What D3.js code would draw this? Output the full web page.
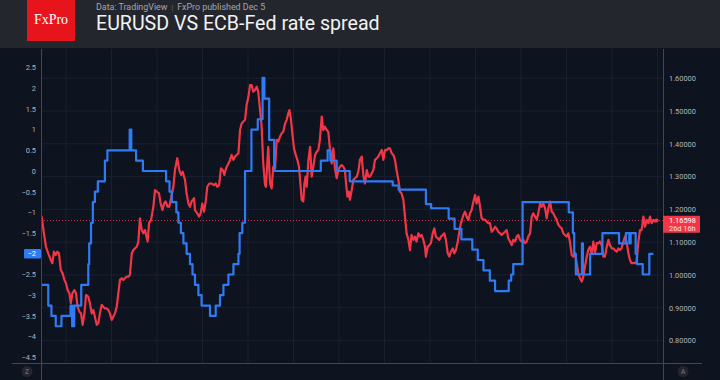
<!DOCTYPE html>
<html><head><meta charset="utf-8">
<script src="https://cdn.jsdelivr.net/npm/d3@7"></script>
<style>
html,body{margin:0;padding:0;background:#0e1320;}
svg{display:block;}
</style></head><body>
<svg id="c" width="720" height="380"></svg>
<script>
// ---------- data ----------
const yearTicks = [2000,2002,2004,2006,2008,2010,2012,2014,2016,2018,2020,2022,2024,2026];
const leftTicks = [2.5,2,1.5,1,0.5,0,-0.5,-1,-1.5,-2,-2.5,-3,-3.5,-4,-4.5];
const rightTicks = [1.6,1.5,1.4,1.3,1.2,1.1,1.0,0.9,0.8];
const titleText = "EURUSD VS ECB-Fed rate spread";
const subtitleLeft = "Data: TradingView";
const subtitleRight = "FxPro published Dec 5";
const logoText = "FxPro";
const lastPrice = 1.16598;
const lastPriceLabel = "1.16598";
const countdownLabel = "26d 16h";
const lastSpread = -2;

// ECB-Fed rate spread (left axis, %), step changes [decimal year, value]
const spreadSteps = [
[1998.93,-2.75],[1999.22,-3.25],[1999.36,-3.5],[1999.55,-3.75],[1999.80,-3.5],[2000.20,-3.25],[2000.27,-3.75],[2000.36,-3.25],[2000.67,-2.75],[2000.98,-2.25],[2001.02,-1.75],[2001.10,-1.25],[2001.18,-0.75],[2001.27,-0.5],[2001.40,-0.25],[2001.71,0.25],[2001.82,0.5],[2002.80,1.0],[2002.87,0.5],[2003.08,0.25],[2003.38,0.0],
[2004.40,-0.25],[2004.55,-0.5],[2004.65,-0.75],[2004.85,-1.0],[2004.94,-1.25],[2005.05,-1.5],[2005.16,-1.75],[2005.30,-2.0],[2005.45,-2.25],[2005.56,-2.5],[2005.67,-2.75],[2005.82,-3.0],[2005.96,-3.25],[2006.33,-3.5],[2006.58,-3.25],[2006.77,-3.0],[2006.92,-2.75],[2007.14,-2.5],[2007.36,-2.25],[2007.58,-2.0],[2007.63,-1.5],[2007.75,-1.25],[2007.87,0.0],
[2008.15,1.0],[2008.43,1.25],[2008.64,2.25],[2008.72,1.75],[2008.93,0.75],[2009.15,0.0],
[2011.20,0.25],[2011.50,0.5],[2011.62,0.25],[2011.90,0.0],[2012.47,-0.25],[2014.36,-0.35],[2014.62,-0.45],[2015.82,-0.8],[2016.05,-0.9],[2016.82,-1.15],[2017.08,-1.4],[2017.38,-1.65],[2017.86,-1.9],[2018.10,-2.15],[2018.35,-2.4],[2018.63,-2.65],[2018.86,-2.9],[2019.46,-2.65],[2019.57,-2.5],[2019.66,-2.25],[2020.07,-0.75],
[2022.10,-1.0],[2022.28,-1.5],[2022.34,-2.0],[2022.41,-2.5],[2022.68,-1.75],[2022.72,-2.5],[2023.04,-2.0],[2023.58,-1.5],[2024.31,-1.75],[2024.61,-1.5],[2024.76,-1.75],[2024.82,-1.5],[2025.04,-2.0],[2025.10,-2.25],[2025.35,-2.5],[2025.64,-2.0],[2025.82,-2.0]
];

// EURUSD (right axis) [decimal year, price]
const eurusd = [
[1998.93,1.178],[1999.03,1.127],[1999.12,1.086],[1999.22,1.066],[1999.33,1.046],[1999.40,1.036],[1999.47,1.071],[1999.55,1.061],[1999.62,1.071],[1999.69,1.066],[1999.77,1.015],[1999.85,1.005],[1999.93,0.985],[2000.00,0.975],[2000.07,0.954],[2000.15,0.944],[2000.21,0.914],[2000.28,0.944],[2000.37,0.954],[2000.44,0.944],[2000.51,0.903],[2000.59,0.888],[2000.66,0.883],[2000.73,0.848],[2000.81,0.883],[2000.88,0.939],[2000.98,0.934],[2001.05,0.914],[2001.13,0.883],[2001.20,0.893],[2001.27,0.873],[2001.35,0.848],[2001.42,0.853],[2001.49,0.883],[2001.57,0.909],[2001.64,0.903],[2001.71,0.898],[2001.79,0.898],[2001.86,0.893],[2001.93,0.883],[2002.01,0.863],[2002.08,0.873],[2002.15,0.883],[2002.23,0.903],[2002.30,0.944],[2002.37,0.985],[2002.45,0.990],[2002.52,0.985],[2002.59,0.990],[2002.67,0.995],[2002.74,0.995],[2002.81,1.000],[2002.89,1.066],[2002.96,1.076],[2003.03,1.081],[2003.11,1.086],[2003.18,1.102],[2003.25,1.173],[2003.33,1.137],[2003.40,1.127],
[2003.47,1.137],[2003.59,1.102],[2003.65,1.158],[2003.74,1.168],[2003.84,1.208],[2003.91,1.259],[2003.99,1.254],[2004.09,1.249],[2004.16,1.218],[2004.24,1.198],[2004.31,1.218],[2004.38,1.224],[2004.47,1.208],[2004.54,1.208],[2004.62,1.234],[2004.72,1.269],[2004.79,1.320],[2004.89,1.356],[2004.98,1.320],[2005.06,1.305],[2005.13,1.315],[2005.23,1.290],[2005.30,1.249],[2005.38,1.218],[2005.45,1.208],[2005.52,1.224],[2005.63,1.234],[2005.67,1.198],[2005.77,1.188],[2005.85,1.178],[2005.92,1.188],[2005.99,1.218],[2006.07,1.193],[2006.15,1.229],[2006.21,1.269],[2006.30,1.279],[2006.40,1.279],[2006.51,1.274],[2006.58,1.279],[2006.65,1.269],[2006.73,1.274],[2006.81,1.325],[2006.89,1.320],[2006.96,1.305],[2007.03,1.325],[2007.14,1.340],[2007.21,1.351],[2007.28,1.366],[2007.36,1.351],[2007.43,1.361],[2007.50,1.366],[2007.58,1.371],[2007.65,1.442],[2007.72,1.462],[2007.80,1.468],[2007.87,1.473],[2007.94,1.518],[2008.02,1.544],[2008.09,1.579],
[2008.16,1.579],[2008.23,1.559],[2008.31,1.564],[2008.38,1.574],[2008.45,1.559],[2008.53,1.503],[2008.60,1.452],[2008.67,1.340],[2008.75,1.274],[2008.79,1.269],[2008.89,1.391],[2008.97,1.279],[2009.04,1.264],[2009.11,1.330],[2009.19,1.325],[2009.26,1.412],[2009.33,1.407],[2009.41,1.422],[2009.48,1.432],[2009.55,1.437],[2009.63,1.462],[2009.70,1.473],[2009.77,1.493],[2009.82,1.503],[2009.88,1.478],[2009.95,1.432],[2010.02,1.386],[2010.10,1.366],[2010.17,1.351],[2010.24,1.330],[2010.29,1.290],[2010.36,1.229],[2010.43,1.224],[2010.48,1.279],[2010.53,1.300],[2010.58,1.269],[2010.65,1.346],[2010.73,1.391],[2010.80,1.300],[2010.87,1.330],[2010.95,1.366],[2011.02,1.376],[2011.09,1.381],[2011.16,1.412],[2011.24,1.483],[2011.31,1.442],[2011.38,1.452],[2011.46,1.442],[2011.53,1.437],[2011.60,1.386],[2011.68,1.340],[2011.75,1.386],[2011.82,1.325],[2011.90,1.295],[2011.97,1.320],[2012.04,1.330],[2012.12,1.335],[2012.19,1.330],[2012.26,1.320],[2012.31,1.279],[2012.37,1.239],[2012.44,1.254],[2012.48,1.229],[2012.56,1.259],[2012.63,1.290],
[2012.70,1.295],[2012.78,1.300],[2012.85,1.315],[2012.92,1.351],[2013.00,1.361],[2013.07,1.305],[2013.14,1.279],[2013.22,1.320],[2013.29,1.300],[2013.36,1.300],[2013.44,1.310],[2013.51,1.320],[2013.58,1.351],[2013.66,1.356],[2013.73,1.361],[2013.80,1.371],[2013.88,1.381],[2013.95,1.351],[2014.02,1.381],[2014.10,1.381],[2014.17,1.386],[2014.24,1.386],[2014.32,1.371],[2014.39,1.366],[2014.46,1.351],[2014.53,1.320],[2014.61,1.290],[2014.68,1.254],[2014.75,1.249],[2014.83,1.229],[2014.90,1.178],[2014.97,1.127],[2015.05,1.107],[2015.12,1.076],[2015.19,1.122],[2015.27,1.107],[2015.34,1.117],[2015.41,1.102],[2015.49,1.127],[2015.56,1.117],[2015.63,1.122],[2015.71,1.107],[2015.78,1.086],[2015.82,1.056],[2015.90,1.086],[2015.97,1.091],[2016.04,1.097],[2016.12,1.127],[2016.19,1.142],[2016.26,1.117],[2016.34,1.112],[2016.41,1.107],[2016.48,1.117],[2016.56,1.122],[2016.63,1.127],[2016.70,1.107],[2016.78,1.066],[2016.85,1.056],[2016.92,1.071],[2017.00,1.081],[2017.07,1.066],[2017.14,1.076],[2017.22,1.102],[2017.29,1.132],[2017.36,1.158],
[2017.47,1.183],[2017.54,1.193],[2017.61,1.178],[2017.69,1.168],[2017.76,1.188],[2017.83,1.198],[2017.91,1.224],[2017.98,1.244],[2018.05,1.218],[2018.13,1.239],[2018.20,1.208],[2018.27,1.173],[2018.34,1.170],[2018.42,1.168],[2018.49,1.163],[2018.56,1.158],[2018.64,1.158],[2018.71,1.132],[2018.78,1.137],[2018.86,1.147],[2018.93,1.142],[2019.00,1.132],[2019.08,1.127],[2019.15,1.122],[2019.22,1.127],[2019.30,1.132],[2019.37,1.137],[2019.44,1.112],[2019.52,1.102],[2019.59,1.091],[2019.66,1.107],[2019.74,1.102],[2019.81,1.117],[2019.88,1.122],[2019.96,1.107],[2020.03,1.102],[2020.10,1.107],[2020.18,1.097],[2020.25,1.102],[2020.32,1.117],[2020.40,1.127],[2020.47,1.178],[2020.54,1.188],[2020.62,1.178],[2020.69,1.168],[2020.76,1.188],[2020.84,1.218],[2020.91,1.208],[2020.98,1.218],[2021.06,1.203],[2021.13,1.173],[2021.20,1.203],[2021.28,1.224],[2021.35,1.193],[2021.42,1.188],[2021.49,1.178],[2021.57,1.168],[2021.64,1.153],
[2021.71,1.147],[2021.79,1.142],[2021.86,1.127],[2021.93,1.122],[2022.01,1.117],[2022.08,1.127],[2022.15,1.102],[2022.23,1.061],[2022.30,1.056],[2022.37,1.066],[2022.45,1.036],[2022.52,1.005],[2022.59,0.990],[2022.67,0.980],[2022.74,0.995],[2022.81,1.025],[2022.89,1.056],[2022.96,1.076],[2023.03,1.086],[2023.11,1.066],[2023.18,1.102],[2023.25,1.066],[2023.33,1.097],[2023.40,1.097],[2023.47,1.102],[2023.55,1.091],[2023.62,1.056],[2023.69,1.056],[2023.77,1.086],[2023.84,1.107],[2023.91,1.091],[2023.99,1.081],[2024.06,1.081],[2024.13,1.076],[2024.21,1.071],[2024.28,1.081],[2024.35,1.076],[2024.42,1.081],[2024.50,1.102],[2024.57,1.117],[2024.64,1.102],[2024.72,1.066],[2024.79,1.046],[2024.86,1.036],[2024.94,1.036],[2025.01,1.036],[2025.08,1.041],[2025.16,1.102],[2025.23,1.137],[2025.30,1.137],[2025.38,1.178],[2025.45,1.147],[2025.52,1.168],[2025.60,1.158],[2025.67,1.178],[2025.74,1.158],[2025.82,1.168],[2025.89,1.163],[2025.96,1.166]
];

// ---------- layout / style ----------
const C = {bg:"#0e1320", header:"#24262d", grid:"#1b2030", axis:"#434651", text:"#b2b5be",
           red:"#f23645", blue:"#2f7bf5", logo:"#e8141b"};
const plot = {l:41, r:663, t:49, b:363};
const svg = d3.select("#c");

const x = d3.scaleLinear().domain([1998.901, 2026.242]).range([plot.l, plot.r]);
const yL = d3.scaleLinear().domain([-4.638, 2.947]).range([plot.b, plot.t]);
const yR = d3.scaleLinear().domain([0.7317, 1.689]).range([plot.b, plot.t]);

svg.append("rect").attr("width",720).attr("height",380).attr("fill",C.bg);
svg.append("rect").attr("width",720).attr("height",48).attr("fill",C.header);

// header
svg.append("rect").attr("x",27).attr("y",0).attr("width",48).attr("height",41).attr("fill",C.logo);
svg.append("text").attr("x",51).attr("y",23.5).attr("text-anchor","middle")
  .attr("font-family","'Liberation Serif','DejaVu Serif',serif").attr("font-size",14)
  .attr("fill","#fff").text(logoText);
const sub = svg.append("text").attr("x",96).attr("y",9.5)
  .attr("font-family","Roboto, sans-serif").attr("font-size",8.9).attr("fill","#a4a7ae");
sub.append("tspan").text(subtitleLeft);
sub.append("tspan").attr("dx",4).attr("fill","#6b6e76").attr("font-size",7).text("|");
sub.append("tspan").attr("dx",4).text(subtitleRight);
svg.append("text").attr("x",96).attr("y",29.5)
  .attr("font-family","Roboto, sans-serif").attr("font-size",19.6).attr("fill","#f2f2f2")
  .text(titleText);

// grid
const grid = svg.append("g");
grid.selectAll("line.v").data(yearTicks).join("line")
  .attr("x1",d=>x(d)).attr("x2",d=>x(d)).attr("y1",plot.t).attr("y2",plot.b)
  .attr("stroke",C.grid).attr("stroke-width",1);
grid.selectAll("line.h").data(rightTicks).join("line")
  .attr("x1",plot.l).attr("x2",plot.r).attr("y1",d=>yR(d)).attr("y2",d=>yR(d))
  .attr("stroke",C.grid).attr("stroke-width",1);

// clip
svg.append("clipPath").attr("id","pc").append("rect")
  .attr("x",plot.l).attr("y",plot.t).attr("width",plot.r-plot.l).attr("height",plot.b-plot.t);
svg.append("clipPath").attr("id","tc").append("rect")
  .attr("x",0).attr("y",plot.b).attr("width",plot.r).attr("height",20);

// last price dotted line
svg.append("line").attr("x1",plot.l).attr("x2",plot.r)
  .attr("y1",yR(lastPrice)).attr("y2",yR(lastPrice))
  .attr("stroke",C.red).attr("stroke-width",1).attr("stroke-dasharray","1,2").attr("opacity",0.85);

const lines = svg.append("g").attr("clip-path","url(#pc)");
lines.append("path").datum(eurusd)
  .attr("d", d3.line().x(d=>x(d[0])).y(d=>yR(d[1])))
  .attr("fill","none").attr("stroke",C.red).attr("stroke-width",2.2)
  .attr("stroke-linejoin","round").attr("stroke-linecap","round");
lines.append("path").datum(spreadSteps)
  .attr("d", d3.line().curve(d3.curveStepAfter).x(d=>x(d[0])).y(d=>yL(d[1])))
  .attr("fill","none").attr("stroke",C.blue).attr("stroke-width",2.2)
  .attr("stroke-linejoin","round");
const lastPt = eurusd[eurusd.length-1];
lines.append("circle").attr("cx",x(lastPt[0])).attr("cy",yR(lastPt[1])).attr("r",2).attr("fill",C.red);

// axis frame lines
svg.append("line").attr("x1",plot.l+0.5).attr("x2",plot.l+0.5).attr("y1",plot.t).attr("y2",380).attr("stroke",C.axis);
svg.append("line").attr("x1",plot.r+0.5).attr("x2",plot.r+0.5).attr("y1",plot.t).attr("y2",380).attr("stroke",C.axis);
svg.append("line").attr("x1",12).attr("x2",702).attr("y1",plot.b+0.5).attr("y2",plot.b+0.5).attr("stroke",C.axis);

// axes
const gl = svg.append("g").attr("transform",`translate(${plot.l},0)`)
  .call(d3.axisLeft(yL).tickValues(leftTicks).tickSize(0).tickPadding(5).tickFormat(d3.format("~g")));
const gr = svg.append("g").attr("transform",`translate(${plot.r},0)`)
  .call(d3.axisRight(yR).tickValues(rightTicks).tickSize(0).tickPadding(6).tickFormat(d3.format(".5f")));
const gb = svg.append("g").attr("transform",`translate(0,${plot.b})`).attr("clip-path","url(#tc)")
  .call(d3.axisBottom(x).tickValues(yearTicks).tickSize(0).tickPadding(5.5).tickFormat(d3.format("d")));
[gl,gr].forEach(g=>{g.select(".domain").remove();
  g.selectAll("text").attr("fill",C.text).attr("font-size",7.4).attr("font-family","Roboto, sans-serif");});
gb.select(".domain").remove();
gb.selectAll("text").attr("fill","#d1d4dc").attr("font-size",8).attr("font-weight","bold")
  .attr("font-family","Roboto, sans-serif").attr("letter-spacing",0.3);

// left current spread label
const ys = yL(lastSpread);
svg.append("rect").attr("x",24).attr("y",ys-4.8).attr("width",17).attr("height",9.6).attr("fill",C.blue).attr("rx",1);
svg.append("text").attr("x",36).attr("y",ys).attr("dy","0.35em").attr("text-anchor","end")
  .attr("font-family","Roboto, sans-serif").attr("font-size",7.4).attr("fill","#fff")
  .text(d3.format("~g")(lastSpread));

// right current price label
const yp = yR(lastPrice);
svg.append("rect").attr("x",plot.r).attr("y",yp-4.8).attr("width",37).attr("height",17).attr("fill",C.red);
svg.append("text").attr("x",669).attr("y",yp-0.2).attr("dy","0.35em")
  .attr("font-family","Roboto, sans-serif").attr("font-size",7.4).attr("fill","#fff").text(lastPriceLabel);
svg.append("text").attr("x",669).attr("y",yp+7.6).attr("dy","0.35em")
  .attr("font-family","Roboto, sans-serif").attr("font-size",7.4).attr("fill","#fde3e5").text(countdownLabel);

// Z / A buttons
[[27,"Z"],[683,"A"]].forEach(([cx,t])=>{
  svg.append("circle").attr("cx",cx).attr("cy",371.5).attr("r",5.5).attr("fill","#22252f");
  svg.append("text").attr("x",cx).attr("y",371.5).attr("dy","0.35em").attr("text-anchor","middle")
    .attr("font-family","Roboto, sans-serif").attr("font-size",6.5).attr("fill","#7c7f88").text(t);
});
</script>
</body></html>
